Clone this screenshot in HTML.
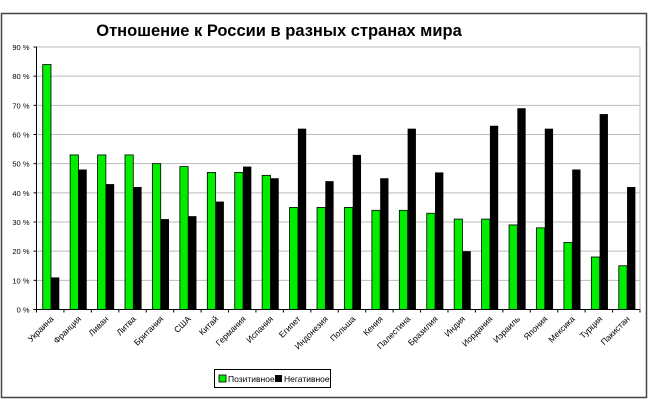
<!DOCTYPE html>
<html><head><meta charset="utf-8"><style>
body{margin:0;background:#fff;}
svg{display:block;font-family:"Liberation Sans","DejaVu Sans",sans-serif;}
</style></head><body>
<svg width="650" height="405" viewBox="0 0 650 405">
<rect x="1.5" y="13.5" width="645" height="384" fill="#fff" stroke="#444" stroke-width="1.5"/>
<text x="279" y="36" text-anchor="middle" font-size="16.5" font-weight="bold" fill="#000">Отношение к России в разных странах мира</text>
<g id="grid"></g><g id="bars"></g><g id="axes"></g>
<g>
<rect x="214.5" y="369.5" width="116" height="18" fill="#fff" stroke="#000" stroke-width="1"/>
<rect x="219" y="375" width="7" height="7" fill="#00ee00" stroke="#000" stroke-width="0.8"/>
<text x="228" y="382" font-size="8.5">Позитивное</text>
<rect x="275" y="375" width="7" height="7" fill="#000"/>
<text x="284" y="382" font-size="8.5">Негативное</text>
</g>
</svg>
<script>
const categories=["Украина","Франция","Ливан","Литва","Британия","США","Китай","Германия","Испания","Египет","Индонезия","Польша","Кения","Палестина","Бразилия","Индия","Иордания","Израиль","Япония","Мексика","Турция","Пакистан"];
const positive=[84,53,53,53,50,49,47,47,46,35,35,35,34,34,33,31,31,29,28,23,18,15];
const negative=[11,48,43,42,31,32,37,49,45,62,44,53,45,62,47,20,63,69,62,48,67,42];
const yTicks=[0,10,20,30,40,50,60,70,80,90];
const NS="http://www.w3.org/2000/svg";
const X0=36.5,X1=640,Y0=309.5,Y1=47,YMAX=90;
const cw=(X1-X0)/categories.length;
const y=v=>Y0-(v/YMAX)*(Y0-Y1);
function mk(t,a,p){const e=document.createElementNS(NS,t);for(const k in a)e.setAttribute(k,a[k]);p.appendChild(e);return e;}
const grid=document.getElementById('grid'),bars=document.getElementById('bars'),axes=document.getElementById('axes');
yTicks.forEach(t=>{
 if(t>0){const g=mk('line',{x1:X0,x2:X1,y1:y(t),y2:y(t),stroke:'#bbb','stroke-width':1},grid);
 
 }
 const tk=mk('line',{x1:X0-3,x2:X0,y1:y(t),y2:y(t),stroke:'#000'},axes);
 
 
 const lb=mk('text',{x:X0-7,y:y(t)+3,'text-anchor':'end','font-size':7.5},axes);
 lb.textContent=t+' %';
 
 
});
mk('line',{x1:X1,x2:X1,y1:Y1,y2:Y0,stroke:'#bbb'},grid);
mk('line',{x1:X0,x2:X1,y1:Y1,y2:Y1,stroke:'#bbb'},grid);
categories.forEach((c,i)=>{
 const cx=X0+i*cw;
 const g=mk('rect',{x:cx+6.2,y:y(positive[i]),width:8.3,height:Y0-y(positive[i]),fill:'#00ee00',stroke:'#000','stroke-width':0.8},bars);
 
 
 const b=mk('rect',{x:cx+14.5,y:y(negative[i]),width:8.3,height:Y0-y(negative[i]),fill:'#000'},bars);
 
 
 const tk=mk('line',{x1:cx+cw,x2:cx+cw,y1:Y0,y2:Y0+3,stroke:'#000'},axes);
 
 
 const lx=cx+cw/2+4,ly=Y0+10;
 const t=mk('text',{x:lx,y:ly,'text-anchor':'end','font-size':8.5,transform:`rotate(-45 ${lx} ${ly})`},axes);
 t.textContent=c;
 
 
});
mk('line',{x1:X0,x2:X0,y1:Y1,y2:Y0+3,stroke:'#000'},axes);
mk('line',{x1:X0,x2:X1,y1:Y0,y2:Y0,stroke:'#000'},axes);
</script>
</body></html>
